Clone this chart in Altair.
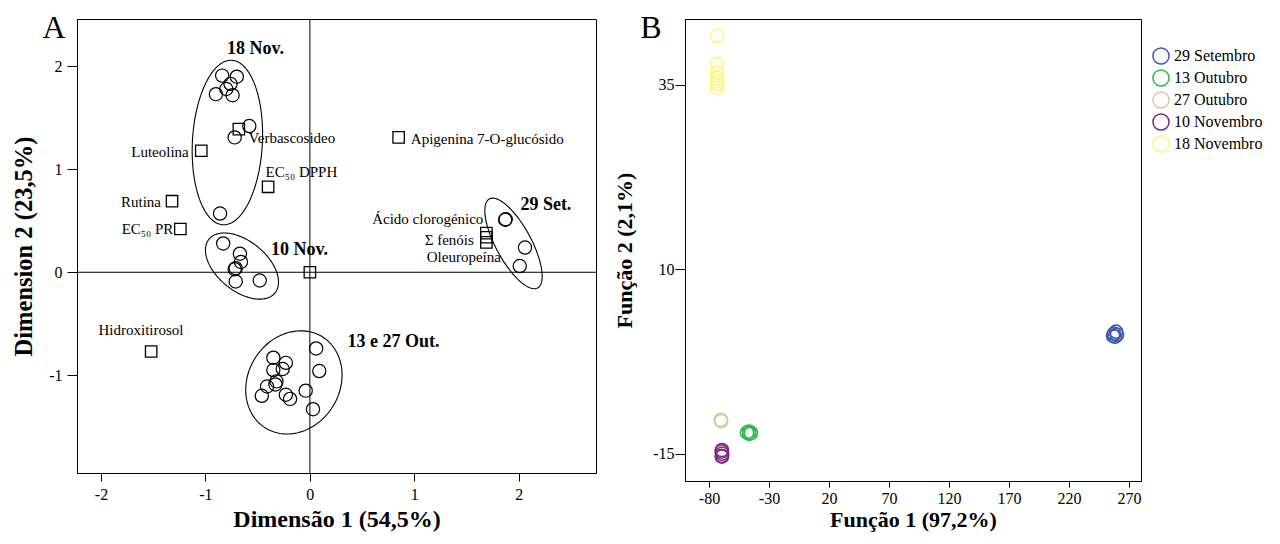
import altair as alt
import pandas as pd
import numpy as np

FONT = "Liberation Serif"

# ---------------- Panel A: correspondence analysis ----------------
obs_x = [-0.84, -0.70, -0.76, -0.90, -0.80, -0.74, -0.58, -0.72, -0.86,
         -0.83, -0.67, -0.66, -0.71, -0.72, -0.71, -0.48,
         0.06, 0.09, -0.35, -0.23, -0.35, -0.26, -0.32, -0.33, -0.41, -0.46, -0.23, -0.19, -0.04, 0.03,
         1.87, 1.875, 2.06, 2.01]
obs_y = [1.91, 1.90, 1.83, 1.73, 1.78, 1.72, 1.42, 1.31, 0.57,
         0.28, 0.18, 0.10, 0.04, 0.03, -0.09, -0.08,
         -0.74, -0.96, -0.83, -0.88, -0.95, -0.94, -1.06, -1.09, -1.11, -1.20, -1.19, -1.23, -1.15, -1.33,
         0.51, 0.515, 0.24, 0.06]

var_names = ["Verbascosideo", "Luteolina", "EC50 DPPH", "Rutina", "EC50 PR",
             "Apigenina 7-O-glucósido", "Ácido clorogénico", "Σ fenóis", "Oleuropeína",
             "Origem", "Hidroxitirosol"]
var_x = [-0.68, -1.04, -0.40, -1.32, -1.24, 0.85, 1.69, 1.69, 1.69, 0.0, -1.52]
var_y = [1.39, 1.18, 0.83, 0.69, 0.42, 1.31, 0.38, 0.34, 0.29, 0.0, -0.77]

lab_text = ["Verbascosideo", "Luteolina", "EC₅₀ DPPH", "Rutina", "EC₅₀ PR",
            "Apigenina 7-O-glucósido", "Ácido clorogénico", "Σ fenóis", "Oleuropeína",
            "Hidroxitirosol"]
lab_x = [-0.172, -1.435, -0.081, -1.617, -1.555, 1.699, 1.129, 1.335, 1.474, -1.617]
lab_y = [1.300, 1.165, 0.971, 0.680, 0.417, 1.291, 0.515, 0.311, 0.146, -0.563]

grp_text = ["18 Nov.", "10 Nov.", "13 e 27 Out.", "29 Set."]
grp_x = [-0.52, -0.10, 0.80, 2.26]
grp_y = [2.17, 0.22, -0.68, 0.65]

ell_cx = [-0.79, -0.65, -0.153, 1.95]
ell_cy = [1.26, 0.06, -1.07, 0.28]
ell_a = [0.80, 0.41, 0.52, 0.49]
ell_b = [0.335, 0.24, 0.44, 0.17]
ell_ang = [87, -40, 60, -62]

zero_line = [0.0]

# ---------------- Panel B: discriminant analysis ----------------
b_groups = ["29 Setembro", "13 Outubro", "27 Outubro", "10 Novembro", "18 Novembro"]
b_colors = ["#3E58AC", "#2EB848", "#D3CE97", "#7C287D", "#FBF873"]
b_x = [259.2, 257.5, 260.0, 256.7, 258.3,
       -48.3, -46.7, -45.0, -46.5,
       -70.2, -69.8, -70.0,
       -69.2, -69.4, -69.0, -69.2, -69.3,
       -73.3, -73.3, -73.3, -73.3, -73.3, -73.3, -73.3]
b_y = [1.53, 1.26, 1.12, 0.99, 0.85,
       -12.15, -12.0, -12.2, -12.3,
       -10.4, -10.6, -10.5,
       -14.5, -14.7, -15.0, -15.3, -15.4,
       41.6, 37.8, 36.6, 35.9, 35.5, 35.1, 34.6]
b_grp = (["29 Setembro"] * 5 + ["13 Outubro"] * 4 + ["27 Outubro"] * 3 +
         ["10 Novembro"] * 5 + ["18 Novembro"] * 7)

# ---------------- build tables ----------------
obs_df = pd.DataFrame({"x": obs_x, "y": obs_y})
var_df = pd.DataFrame({"x": var_x, "y": var_y, "name": var_names})
lab_df = pd.DataFrame({"x": lab_x, "y": lab_y, "t": lab_text})
grp_df = pd.DataFrame({"x": grp_x, "y": grp_y, "t": grp_text})
zero_df = pd.DataFrame({"x": zero_line, "y": zero_line})

rows = []
tt = np.linspace(0, 2 * np.pi, 145)
for g, cx, cy, a, b, ang in zip(grp_text, ell_cx, ell_cy, ell_a, ell_b, ell_ang):
    th = np.deg2rad(ang)
    xs = cx + a * np.cos(tt) * np.cos(th) - b * np.sin(tt) * np.sin(th)
    ys = cy + a * np.cos(tt) * np.sin(th) + b * np.sin(tt) * np.cos(th)
    for i, (xv, yv) in enumerate(zip(xs, ys)):
        rows.append({"g": g, "i": i, "x": float(xv), "y": float(yv)})
ell_df = pd.DataFrame(rows)

b_df = pd.DataFrame({"x": b_x, "y": b_y, "g": b_grp})

xsA = alt.Scale(domain=[-2.23, 2.74], nice=False, zero=False)
ysA = alt.Scale(domain=[-1.95, 2.46], nice=False, zero=False)

axXA = alt.Axis(values=[-2, -1, 0, 1, 2], title="Dimensão 1 (54,5%)",
                labelExpr="'' + datum.value", tickSize=8, labelPadding=5, titlePadding=5,
                titleFontSize=24)
axYA = alt.Axis(values=[-1, 0, 1, 2], title="Dimension 2 (23,5%)",
                labelExpr="'' + datum.value", tickSize=10, labelPadding=5, titlePadding=12,
                titleFontSize=24.5)
xA = alt.X("x:Q", scale=xsA, axis=axXA)
yA = alt.Y("y:Q", scale=ysA, axis=axYA)

circlesA = alt.Chart(obs_df).mark_point(shape="circle", filled=False, color="black",
                                        size=175, strokeWidth=1.2, opacity=1).encode(x=xA, y=yA)
squaresA = alt.Chart(var_df).mark_point(shape="square", filled=False, color="black",
                                        size=130, strokeWidth=1.3, opacity=1).encode(x=xA, y=yA)
ellA = alt.Chart(ell_df).mark_line(color="black", strokeWidth=1.1).encode(
    x=xA, y=yA, detail="g:N", order="i:Q")
zeroV = alt.Chart(zero_df).mark_rule(color="black", strokeWidth=1).encode(x=xA)
zeroH = alt.Chart(zero_df).mark_rule(color="black", strokeWidth=1).encode(y=yA)
labA = alt.Chart(lab_df).mark_text(font=FONT, fontSize=15, color="black", align="center",
                                   baseline="middle").encode(x=xA, y=yA, text="t:N")
grpA = alt.Chart(grp_df).mark_text(font=FONT, fontSize=18, fontWeight="bold", color="black",
                                   align="center", baseline="middle").encode(x=xA, y=yA, text="t:N")
letterA = alt.Chart(zero_df).mark_text(text="A", font=FONT, fontSize=32, color="black",
                                       align="center", baseline="alphabetic").encode(
    x=alt.value(-23), y=alt.value(19))

panelA = alt.layer(circlesA, zeroV, zeroH, ellA, squaresA, labA, grpA, letterA).properties(
    width=519, height=454)

# ---------------- Panel B chart ----------------
xsB = alt.Scale(domain=[-100, 280], nice=False, zero=False)
ysB = alt.Scale(domain=[-18.7, 43.9], nice=False, zero=False)
pointsB = alt.Chart(b_df).mark_point(shape="circle", filled=False, size=175, strokeWidth=1.5,
                                     opacity=1).encode(
    x=alt.X("x:Q", scale=xsB, axis=alt.Axis(values=[-80, -30, 20, 70, 120, 170, 220, 270],
                                            title="Função 1 (97,2%)", labelExpr="'' + datum.value",
                                            tickSize=6, labelPadding=3, titlePadding=3)),
    y=alt.Y("y:Q", scale=ysB, axis=alt.Axis(values=[-15, 10, 35], title="Função 2 (2,1%)",
                                            labelExpr="'' + datum.value", tickSize=10,
                                            labelPadding=1, titlePadding=16)),
    color=alt.Color("g:N", scale=alt.Scale(domain=b_groups, range=b_colors),
                    legend=alt.Legend(title=" ", titleFontSize=10, titlePadding=18,
                                      orient="right", offset=10, symbolSize=260,
                                      symbolStrokeWidth=1.5, labelFontSize=16, labelFont=FONT,
                                      labelColor="black", rowPadding=-2, padding=0,
                                      symbolType="circle")),
)
letterB = alt.Chart(zero_df).mark_text(text="B", font=FONT, fontSize=32, color="black",
                                       align="center", baseline="alphabetic").encode(
    x=alt.value(-34), y=alt.value(19))
panelB = alt.layer(pointsB, letterB).properties(width=456, height=462)

chart = alt.hconcat(panelA, panelB, spacing=16).properties(
    padding={"left": 3, "top": 3, "right": 0, "bottom": 0}
).configure_view(stroke="black", strokeWidth=1).configure_axis(
    grid=False, labelFont=FONT, labelFontSize=16, labelColor="black", tickColor="black",
    domainColor="black", tickSize=5, titleFont=FONT, titleFontSize=22, titleFontWeight="bold",
    titleColor="black"
)

chart.save("out.html", embed_options={"renderer": "svg", "actions": False})
